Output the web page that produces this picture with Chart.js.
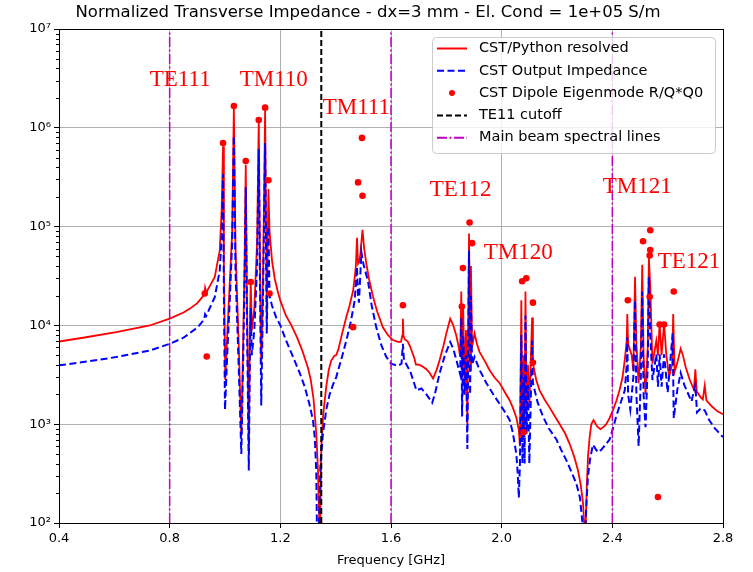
<!DOCTYPE html>
<html>
<head>
<meta charset="utf-8">
<script src="https://cdn.jsdelivr.net/npm/chart.js@4.4.0/dist/chart.umd.min.js"></script>
<style>
body{margin:0;background:#fff}
</style>
</head>
<body>
<canvas id="chart" width="753" height="572"></canvas>
<script>
const titleText = "Normalized Transverse Impedance - dx=3 mm - El. Cond = 1e+05 S/m"
const xTicks = [0.4, 0.8, 1.2, 1.6, 2.0, 2.4, 2.8]
const yDecades = [2, 3, 4, 5, 6, 7]

// CST/Python resolved (red)
const redFreq = [0.40,0.487,0.607,0.728,0.80,0.85,0.872,0.90,0.925,0.928,0.932,0.945,0.963,0.981,0.988,0.993,0.996,1.001,1.008,1.018,1.026,1.032,
  1.038,1.05,1.059,1.066,1.071,1.075,1.079,1.086,1.09,1.093,1.097,1.106,1.116,1.122,1.127,1.131,1.138,1.145,1.151,1.157,
  1.161,1.17,1.18,1.19,1.20,1.22,1.24,1.26,1.28,1.30,1.31,1.32,1.33,1.336,1.34,1.343,1.348,1.355,1.366,1.375,
  1.384,1.395,1.402,1.41,1.426,1.44,1.45,1.463,1.469,1.473,1.477,1.481,1.486,1.49,1.497,1.503,1.511,1.52,1.535,1.55,
  1.571,1.59,1.607,1.625,1.636,1.641,1.643,1.645,1.65,1.66,1.667,1.675,1.685,1.69,1.70,1.71,1.728,1.74,1.752,1.765,
  1.776,1.79,1.80,1.814,1.825,1.836,1.845,1.85,1.854,1.857,1.861,1.866,1.871,1.876,1.882,1.886,1.889,1.893,1.902,1.91,
  1.92,1.94,1.957,1.975,1.993,2.01,2.029,2.04,2.053,2.058,2.062,2.066,2.071,2.075,2.08,2.083,2.086,2.09,2.095,2.10,
  2.11,2.113,2.125,2.137,2.155,2.173,2.19,2.21,2.23,2.246,2.262,2.276,2.286,2.294,2.298,2.303,2.308,2.312,2.318,2.324,
  2.332,2.345,2.357,2.367,2.378,2.39,2.402,2.415,2.426,2.437,2.445,2.452,2.454,2.457,2.47,2.476,2.482,2.487,2.495,2.503,
  2.508,2.513,2.52,2.528,2.532,2.537,2.545,2.559,2.565,2.571,2.578,2.587,2.595,2.605,2.616,2.62,2.625,2.635,2.647,2.655,
  2.665,2.68,2.695,2.70,2.705,2.72,2.727,2.734,2.74,2.76,2.78,2.8]
const redZ = [6870,7500,8530,9980,11700,13500,14700,16800,20500,24000,21500,25000,30900,57500,150000,650000,40000,2800,8000,30000,90000,1600000,
  60000,6000,750,8000,50000,420000,25000,500,9000,28000,9000,15000,70000,1200000,30000,4000,40000,1500000,12000,240000,
  90000,45000,29500,22400,17800,12600,10000,7600,5500,3700,2800,1800,800,350,125,60,590,1260,2400,3550,
  4400,4900,5000,5750,8900,12600,15800,22400,31000,40000,77000,42000,44000,56000,93000,60000,42000,30000,19500,13800,
  9500,7900,7100,6800,6800,7900,11700,7900,7200,6900,6300,5500,4600,4000,4000,3900,3600,3300,2900,3550,
  4500,6300,8300,11700,10000,7900,6000,4800,22000,3000,15000,2000,9000,1000,85000,3500,40000,6000,8300,6600,
  5400,4300,3500,2950,2600,2140,1740,1480,1170,1000,870,600,18000,700,5000,800,22000,1500,4000,1500,
  12000,4100,2800,2200,1780,1480,1230,1000,800,630,470,340,240,160,100,80,250,470,740,1000,
  1100,950,890,930,1000,1150,1380,1740,2200,3000,4500,7000,13000,6500,5000,3500,31000,6500,2600,6000,
  41000,5000,2000,6000,49000,25000,4100,7000,5000,10500,5000,10500,5100,3000,4000,13000,3400,4200,5800,5000,
  3800,2800,2240,3600,2140,1860,1780,2450,1740,1510,1350,1260]

// CST Output Impedance (blue dashed)
const blueFreq = [0.40,0.487,0.607,0.728,0.80,0.85,0.872,0.90,0.925,0.928,0.932,0.945,0.963,0.981,0.988,0.993,0.996,1.0,1.008,1.018,1.026,1.032,
  1.038,1.05,1.059,1.066,1.071,1.075,1.079,1.086,1.09,1.093,1.097,1.106,1.116,1.122,1.127,1.131,1.138,1.145,1.151,1.157,
  1.161,1.17,1.185,1.2,1.22,1.246,1.27,1.288,1.305,1.318,1.325,1.33,1.333,1.338,1.345,1.354,1.366,1.378,1.39,1.402,
  1.42,1.439,1.455,1.469,1.477,1.481,1.484,1.488,1.493,1.5,1.517,1.53,1.547,1.565,1.583,1.6,1.625,1.638,1.643,1.647,
  1.65,1.67,1.692,1.71,1.728,1.749,1.76,1.776,1.795,1.814,1.825,1.836,1.85,1.854,1.857,1.861,1.866,1.871,1.876,1.882,
  1.886,1.889,1.893,1.902,1.92,1.945,1.97,1.993,2.01,2.029,2.04,2.053,2.058,2.062,2.066,2.071,2.075,2.08,2.083,2.086,
  2.09,2.095,2.10,2.11,2.113,2.13,2.149,2.17,2.198,2.215,2.234,2.25,2.27,2.283,2.292,2.30,2.306,2.312,2.32,2.33,
  2.34,2.348,2.36,2.375,2.39,2.402,2.414,2.43,2.445,2.452,2.454,2.457,2.465,2.476,2.482,2.487,2.495,2.503,2.508,2.513,
  2.52,2.528,2.532,2.537,2.545,2.559,2.565,2.571,2.578,2.587,2.60,2.618,2.622,2.635,2.647,2.66,2.686,2.70,2.706,2.72,
  2.734,2.75,2.77,2.8]
const blueZ = [3940,4250,4780,5570,6510,7500,8330,9500,11500,13000,12500,15000,19300,35900,80000,340000,20000,1400,5000,20000,70000,830000,
  35000,3500,500,5000,30000,250000,15000,340,5000,15000,5000,9000,40000,610000,18000,1550,25000,700000,8300,100000,
  20000,15800,12000,10000,7100,4800,3300,2400,1600,1100,700,320,60,60,400,800,1400,2000,2500,3000,
  4500,7100,11000,18000,39000,20000,17000,28000,55000,42000,28000,16000,9500,6300,4800,4100,3900,4100,6500,4400,
  4300,3400,2200,2300,2000,1650,2100,3300,5000,6800,5800,4500,3200,12000,1200,8000,2000,5000,560,57000,
  2000,20000,4000,4800,3550,2600,2000,1600,1350,1100,830,500,320,180,400,8000,400,3000,400,12600,
  800,2500,400,7000,2600,1660,1200,910,700,550,430,340,250,180,100,50,150,300,450,620,
  560,520,550,620,700,900,1200,1650,2200,4000,7600,2000,1400,3000,18000,2000,600,3000,22000,2000,
  930,4000,31000,8000,2800,5100,2400,5100,2400,5100,2100,8300,1150,2240,3300,2500,1700,2500,1320,1450,
  1380,1100,910,740]

// CST Dipole Eigenmode R/Q*Q0 (red dots)
const dotFreq = [0.927,0.934,0.993,1.032,1.075,1.093,1.122,1.145,1.157,1.161,1.463,1.481,1.495,1.497,1.643,1.856,1.86,1.884,1.893,
  2.074,2.079,2.089,2.113,2.113,2.456,2.511,2.535,2.535,2.537,2.537,2.565,2.571,2.587,2.622]
const dotZ = [21000,4850,700000,1660000,460000,27500,1200000,1600000,295000,21000,9600,280000,790000,205000,16000,15500,38000,110000,68000,
  28000,830,30000,17000,4200,18000,71000,19500,51000,58000,92000,183,10200,10200,22000]

const cutoffFreq = 1.348
const beamLines = [0.8, 1.6, 2.4]

const modeNames = ["TE111", "TM110", "TM111", "TE112", "TM120", "TM121", "TE121"]
const modeFreq = [0.728, 1.053, 1.353, 1.74, 1.935, 2.365, 2.564]
const modeZ = [2.67e6, 2.67e6, 1.39e6, 2.04e5, 4.7e4, 2.2e5, 3.85e4]

const legendNames = ["CST/Python resolved", "CST Output Impedance", "CST Dipole Eigenmode R/Q*Q0", "TE11 cutoff", "Main beam spectral lines"]

const sup = {2:"²", 3:"³", 4:"⁴", 5:"⁵", 6:"⁶", 7:"⁷"}
const FONT = "DejaVu Sans"

function pts(fs, zs){
  return fs.map((f, i) => ({x: f, y: zs[i]}))
}
function isMajor(v){
  let l = Math.log10(v)
  return Math.abs(l - Math.round(l)) < 1e-6
}

let minorVals = []
yDecades.slice(0, -1).forEach(d => {
  for (let m = 2; m < 10; m++) minorVals.push(m * Math.pow(10, d))
})

let datasets = [
  {data: pts(redFreq, redZ), borderColor: "#ff0000", borderWidth: 1.8, pointRadius: 0, order: 5},
  {data: pts(blueFreq, blueZ), borderColor: "#0000ff", borderWidth: 2, borderDash: [7, 3.5], pointRadius: 0, order: 4},
  {data: pts(dotFreq, dotZ), showLine: false, pointRadius: 3.3, pointBackgroundColor: "#ff0000", pointBorderWidth: 0, order: 3},
  {data: [{x: cutoffFreq, y: 100}, {x: cutoffFreq, y: 1e7}], borderColor: "#000", borderWidth: 2, borderDash: [6, 3], pointRadius: 0, order: 2}
]
beamLines.forEach(f => {
  datasets.push({data: [{x: f, y: 100}, {x: f, y: 1e7}], borderColor: "#bf00bf", borderWidth: 1.5, borderDash: [10, 2.5, 2, 2.5], pointRadius: 0, order: 1})
})

const extras = {
  id: "extras",
  afterDraw(chart){
    const ctx = chart.ctx
    const a = chart.chartArea
    const xs = chart.scales.x
    const ys = chart.scales.y
    ctx.save()

    // frame
    ctx.strokeStyle = "#000"
    ctx.lineWidth = 1
    ctx.strokeRect(Math.round(a.left) + 0.5, Math.round(a.top) + 0.5, Math.round(a.right - a.left), Math.round(a.bottom - a.top))

    // minor ticks
    minorVals.forEach(v => {
      let y = Math.round(ys.getPixelForValue(v)) + 0.5
      ctx.beginPath()
      ctx.moveTo(a.left - 3, y)
      ctx.lineTo(a.left, y)
      ctx.stroke()
    })

    // mode names
    ctx.fillStyle = "#ff0000"
    ctx.font = '23px "Liberation Serif"'
    ctx.textAlign = "left"
    ctx.textBaseline = "alphabetic"
    modeNames.forEach((n, i) => {
      ctx.fillText(n, xs.getPixelForValue(modeFreq[i]), ys.getPixelForValue(modeZ[i]))
    })

    // title
    ctx.fillStyle = "#000"
    ctx.font = "16.5px " + FONT
    ctx.textAlign = "center"
    ctx.textBaseline = "middle"
    ctx.fillText(titleText, 368, 13)

    // legend
    let bx = a.right - 291, by = a.top + 8, bw = 283, bh = 116
    ctx.fillStyle = "rgba(255,255,255,0.8)"
    ctx.strokeStyle = "#cccccc"
    ctx.beginPath()
    ctx.roundRect(bx + 0.5, by + 0.5, bw, bh, 4)
    ctx.fill()
    ctx.stroke()
    ctx.font = "14.5px " + FONT
    ctx.textAlign = "left"
    legendNames.forEach((n, i) => {
      let y = by + 11.5 + i * 22.3
      let x0 = bx + 5, x1 = bx + 35
      ctx.setLineDash([])
      if (i == 0){ ctx.strokeStyle = "#ff0000"; ctx.lineWidth = 2 }
      if (i == 1){ ctx.strokeStyle = "#0000ff"; ctx.lineWidth = 2; ctx.setLineDash([7, 3.5]) }
      if (i == 3){ ctx.strokeStyle = "#000"; ctx.lineWidth = 2; ctx.setLineDash([6, 3]) }
      if (i == 4){ ctx.strokeStyle = "#bf00bf"; ctx.lineWidth = 2; ctx.setLineDash([10, 2.5, 2, 2.5]) }
      if (i == 2){
        ctx.fillStyle = "#ff0000"
        ctx.beginPath()
        ctx.arc((x0 + x1) / 2, y, 3, 0, Math.PI * 2)
        ctx.fill()
      } else {
        ctx.beginPath()
        ctx.moveTo(x0, y)
        ctx.lineTo(x1, y)
        ctx.stroke()
      }
      ctx.fillStyle = "#000"
      ctx.fillText(n, bx + 47, y)
    })
    ctx.restore()
  }
}

new Chart(document.getElementById("chart"), {
  type: "line",
  data: {datasets: datasets},
  options: {
    responsive: false,
    animation: false,
    devicePixelRatio: 1,
    layout: {padding: {top: 29, right: 30, left: 0, bottom: 0}},
    plugins: {legend: {display: false}, tooltip: {enabled: false}, title: {display: false}},
    scales: {
      x: {
        type: "linear", min: 0.4, max: 2.8,
        afterBuildTicks: s => { s.ticks = xTicks.map(v => ({value: v})) },
        afterFit: s => { s.height = 49 },
        ticks: {callback: v => v.toFixed(1), color: "#000", font: {family: FONT, size: 13}, padding: 3, maxRotation: 0, autoSkip: false},
        grid: {color: "#b0b0b0", tickLength: 5, tickColor: "#000"},
        border: {color: "#000"},
        title: {display: true, text: "Frequency [GHz]", color: "#000", font: {family: FONT, size: 13}, padding: {top: 2, bottom: 4}}
      },
      y: {
        type: "logarithmic", min: 100, max: 1e7,
        afterBuildTicks: s => {
          let t = yDecades.map(d => ({value: Math.pow(10, d), major: true}))
          minorVals.forEach(v => t.push({value: v}))
          s.ticks = t.sort((p, q) => p.value - q.value)
        },
        afterFit: s => { s.width = 59 },
        ticks: {
          callback: v => isMajor(v) ? "10" + sup[Math.round(Math.log10(v))] : "",
          color: "#000", font: {family: FONT, size: 13}, padding: 3, autoSkip: false
        },
        grid: {
          color: c => (c.tick && isMajor(c.tick.value)) ? "#b0b0b0" : "rgba(0,0,0,0)",
          tickColor: c => (c.tick && isMajor(c.tick.value)) ? "#000" : "rgba(0,0,0,0)",
          tickLength: 5
        },
        border: {color: "#000"}
      }
    }
  },
  plugins: [extras]
})
</script>
</body>
</html>
